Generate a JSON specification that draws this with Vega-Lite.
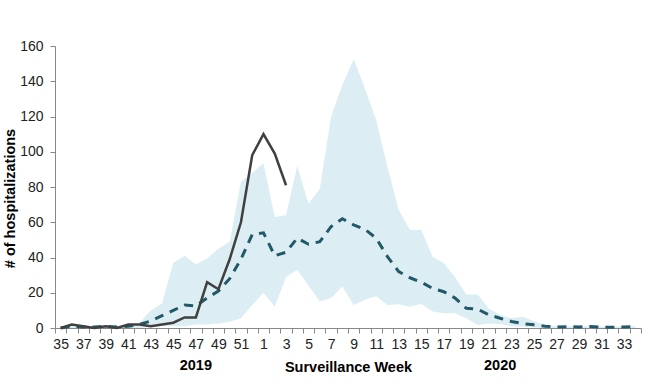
{
  "$schema": "https://vega.github.io/schema/vega-lite/v6.json",
  "autosize": "none",
  "width": 586,
  "height": 282,
  "padding": {"left": 55, "top": 46, "right": 22, "bottom": 59},
  "background": "white",
  "config": {
    "view": {"stroke": null},
    "font": "Liberation Sans",
    "axisY": {
      "labelOverlap": false,
      "titleFont": "Liberation Sans",
      "titleFontSize": 14.5,
      "titleFontWeight": "bold",
      "titleColor": "#000000",
      "titlePadding": 2,
      "titleY": 152,
      "labelFont": "Liberation Sans",
      "labelFontSize": 14,
      "labelColor": "#222222",
      "labelPadding": 7,
      "tickSize": 5,
      "tickColor": "#888888",
      "domainColor": "#888888",
      "grid": false
    }
  },
  "data": {
    "values": [
      {"idx": 0, "week": 35, "lo": 0, "hi": 0.5, "avg": 0, "cur": 0},
      {"idx": 1, "week": 36, "lo": 0, "hi": 1, "avg": 1, "cur": 2},
      {"idx": 2, "week": 37, "lo": 0, "hi": 1, "avg": 0.5, "cur": 1},
      {"idx": 3, "week": 38, "lo": 0, "hi": 1, "avg": 0.5, "cur": 0},
      {"idx": 4, "week": 39, "lo": 0, "hi": 1.5, "avg": 1, "cur": 1},
      {"idx": 5, "week": 40, "lo": 0, "hi": 1, "avg": 0.5, "cur": 0},
      {"idx": 6, "week": 41, "lo": 0, "hi": 2, "avg": 1, "cur": 2},
      {"idx": 7, "week": 42, "lo": 0, "hi": 3, "avg": 2, "cur": 2},
      {"idx": 8, "week": 43, "lo": 0.5, "hi": 10, "avg": 4, "cur": 1},
      {"idx": 9, "week": 44, "lo": 1, "hi": 14, "avg": 7, "cur": 2},
      {"idx": 10, "week": 45, "lo": 1, "hi": 37, "avg": 10, "cur": 3},
      {"idx": 11, "week": 46, "lo": 1, "hi": 41, "avg": 13, "cur": 6},
      {"idx": 12, "week": 47, "lo": 2, "hi": 36, "avg": 12.5, "cur": 6},
      {"idx": 13, "week": 48, "lo": 2, "hi": 39.5, "avg": 17, "cur": 26},
      {"idx": 14, "week": 49, "lo": 2.5, "hi": 45, "avg": 21, "cur": 22},
      {"idx": 15, "week": 50, "lo": 3.5, "hi": 49, "avg": 28, "cur": 39},
      {"idx": 16, "week": 51, "lo": 5.5, "hi": 83, "avg": 39, "cur": 60},
      {"idx": 17, "week": 52, "lo": 13, "hi": 88, "avg": 53, "cur": 98},
      {"idx": 18, "week": 1, "lo": 20, "hi": 93.5, "avg": 54, "cur": 110},
      {"idx": 19, "week": 2, "lo": 12, "hi": 63, "avg": 41, "cur": 99},
      {"idx": 20, "week": 3, "lo": 29, "hi": 64, "avg": 43, "cur": 81},
      {"idx": 21, "week": 4, "lo": 33, "hi": 92, "avg": 51, "cur": null},
      {"idx": 22, "week": 5, "lo": 24, "hi": 70.5, "avg": 47.5, "cur": null},
      {"idx": 23, "week": 6, "lo": 15, "hi": 79, "avg": 49, "cur": null},
      {"idx": 24, "week": 7, "lo": 17, "hi": 120, "avg": 57.5, "cur": null},
      {"idx": 25, "week": 8, "lo": 23.5, "hi": 138, "avg": 62, "cur": null},
      {"idx": 26, "week": 9, "lo": 13, "hi": 152.5, "avg": 58.5, "cur": null},
      {"idx": 27, "week": 10, "lo": 16, "hi": 136, "avg": 56, "cur": null},
      {"idx": 28, "week": 11, "lo": 18, "hi": 118, "avg": 51, "cur": null},
      {"idx": 29, "week": 12, "lo": 13, "hi": 91.5, "avg": 40.5, "cur": null},
      {"idx": 30, "week": 13, "lo": 13.5, "hi": 67, "avg": 32, "cur": null},
      {"idx": 31, "week": 14, "lo": 12, "hi": 55.6, "avg": 28.5, "cur": null},
      {"idx": 32, "week": 15, "lo": 13.6, "hi": 55.6, "avg": 26, "cur": null},
      {"idx": 33, "week": 16, "lo": 9.3, "hi": 40.5, "avg": 22.5, "cur": null},
      {"idx": 34, "week": 17, "lo": 8.3, "hi": 36.7, "avg": 20.6, "cur": null},
      {"idx": 35, "week": 18, "lo": 8.3, "hi": 29, "avg": 17, "cur": null},
      {"idx": 36, "week": 19, "lo": 5.5, "hi": 19, "avg": 11.2, "cur": null},
      {"idx": 37, "week": 20, "lo": 1.7, "hi": 19, "avg": 10.7, "cur": null},
      {"idx": 38, "week": 21, "lo": 2.6, "hi": 11, "avg": 7.5, "cur": null},
      {"idx": 39, "week": 22, "lo": 2.3, "hi": 7.4, "avg": 5.5, "cur": null},
      {"idx": 40, "week": 23, "lo": 1, "hi": 5.5, "avg": 3.7, "cur": null},
      {"idx": 41, "week": 24, "lo": 0.8, "hi": 6.4, "avg": 2.5, "cur": null},
      {"idx": 42, "week": 25, "lo": 0.3, "hi": 4, "avg": 1.8, "cur": null},
      {"idx": 43, "week": 26, "lo": 0, "hi": 1.5, "avg": 1, "cur": null},
      {"idx": 44, "week": 27, "lo": 0, "hi": 1, "avg": 0.6, "cur": null},
      {"idx": 45, "week": 28, "lo": 0, "hi": 1, "avg": 0.8, "cur": null},
      {"idx": 46, "week": 29, "lo": 0, "hi": 1, "avg": 0.6, "cur": null},
      {"idx": 47, "week": 30, "lo": 0, "hi": 1, "avg": 0.8, "cur": null},
      {"idx": 48, "week": 31, "lo": 0, "hi": 0.8, "avg": 0.4, "cur": null},
      {"idx": 49, "week": 32, "lo": 0, "hi": 0.8, "avg": 0.4, "cur": null},
      {"idx": 50, "week": 33, "lo": 0, "hi": 1, "avg": 0.6, "cur": null},
      {"idx": 51, "week": 34, "lo": 0, "hi": 1, "avg": 0.8, "cur": null}
    ]
  },
  "encoding": {
    "x": {
      "field": "week",
      "type": "ordinal",
      "bandPosition": 0.5,
      "sort": [35,36,37,38,39,40,41,42,43,44,45,46,47,48,49,50,51,52,1,2,3,4,5,6,7,8,9,10,11,12,13,14,15,16,17,18,19,20,21,22,23,24,25,26,27,28,29,30,31,32,33,34],
      "scale": {"type": "band", "paddingInner": 0, "paddingOuter": 0},
      "axis": {
        "title": "Surveillance Week",
        "titleFont": "Liberation Sans",
        "titleFontSize": 14.5,
        "titleFontWeight": "bold",
        "titleColor": "#000000",
        "titlePadding": 9,
        "labelFont": "Liberation Sans",
        "labelFontSize": 14,
        "labelColor": "#222222",
        "labelAngle": 0,
        "labelPadding": 4,
        "labelOverlap": false,
        "labelExpr": "datum.value % 2 == 1 ? datum.label : ''",
        "tickBand": "extent",
        "tickSize": 5,
        "tickColor": "#888888",
        "domainColor": "#888888",
        "grid": false
      }
    }
  },
  "layer": [
    {
      "mark": {"type": "area", "color": "#DCEEF4", "opacity": 1},
      "encoding": {
        "y": {
          "field": "lo",
          "type": "quantitative",
          "scale": {"domain": [0, 160], "nice": false},
          "axis": {"title": "# of hospitalizations", "values": [0, 20, 40, 60, 80, 100, 120, 140, 160]}
        },
        "y2": {"field": "hi"}
      }
    },
    {
      "mark": {"type": "line", "color": "#215968", "strokeWidth": 3, "strokeDash": [9, 7]},
      "encoding": {"y": {"field": "avg", "type": "quantitative", "axis": {"title": "# of hospitalizations", "values": [0, 20, 40, 60, 80, 100, 120, 140, 160]}}}
    },
    {
      "mark": {"type": "line", "color": "#404040", "strokeWidth": 2.5},
      "encoding": {"y": {"field": "cur", "type": "quantitative", "axis": {"title": "# of hospitalizations", "values": [0, 20, 40, 60, 80, 100, 120, 140, 160]}}}
    },
    {
      "data": {"values": [{"week": 47, "label": "2019"}, {"week": 22, "label": "2020"}]},
      "mark": {"type": "text", "font": "Liberation Sans", "fontSize": 14.5, "fontWeight": "bold", "color": "#000000", "dy": 38},
      "encoding": {
        "y": {"datum": 0, "type": "quantitative", "axis": {"title": "# of hospitalizations", "values": [0, 20, 40, 60, 80, 100, 120, 140, 160]}},
        "text": {"field": "label"}
      }
    }
  ]
}
